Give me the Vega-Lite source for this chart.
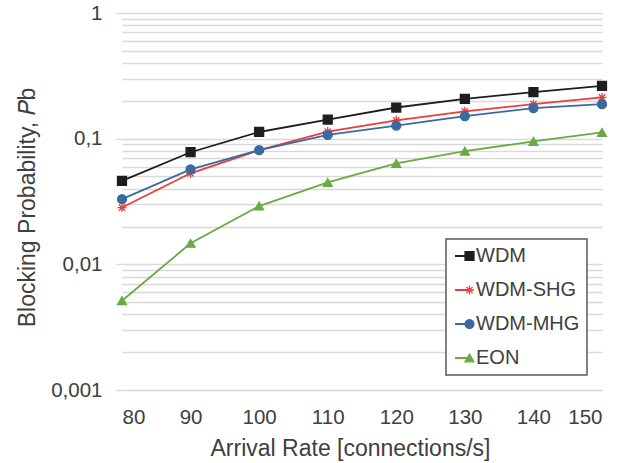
{
  "$schema": "https://vega.github.io/schema/vega-lite/v6.json",
  "autosize": "none",
  "width": 480,
  "height": 377,
  "padding": {"left": 122, "top": 13, "right": 36, "bottom": 73},
  "background": "white",
  "config": {
    "view": {"stroke": null},
    "font": "Liberation Sans",
    "axis": {"labelFont": "Liberation Sans", "titleFont": "Liberation Sans", "labelColor": "#404040", "titleColor": "#404040", "titleFontWeight": "normal"},
    "legend": {"title": null, "orient": "none", "legendY": 226, "padding": 7, "labelFont": "Liberation Sans", "labelFontSize": 20, "labelColor": "#404040", "rowPadding": 14}
  },
  "data": {
    "values": [
      {"series": "WDM", "rate": 80, "pb": 0.0462},
      {"series": "WDM", "rate": 90, "pb": 0.078},
      {"series": "WDM", "rate": 100, "pb": 0.113},
      {"series": "WDM", "rate": 110, "pb": 0.142},
      {"series": "WDM", "rate": 120, "pb": 0.177},
      {"series": "WDM", "rate": 130, "pb": 0.207},
      {"series": "WDM", "rate": 140, "pb": 0.235},
      {"series": "WDM", "rate": 150, "pb": 0.263},
      {"series": "WDM-SHG", "rate": 80, "pb": 0.0283},
      {"series": "WDM-SHG", "rate": 90, "pb": 0.053},
      {"series": "WDM-SHG", "rate": 100, "pb": 0.081},
      {"series": "WDM-SHG", "rate": 110, "pb": 0.114},
      {"series": "WDM-SHG", "rate": 120, "pb": 0.14},
      {"series": "WDM-SHG", "rate": 130, "pb": 0.165},
      {"series": "WDM-SHG", "rate": 140, "pb": 0.188},
      {"series": "WDM-SHG", "rate": 150, "pb": 0.213},
      {"series": "WDM-MHG", "rate": 80, "pb": 0.033},
      {"series": "WDM-MHG", "rate": 90, "pb": 0.057},
      {"series": "WDM-MHG", "rate": 100, "pb": 0.081},
      {"series": "WDM-MHG", "rate": 110, "pb": 0.107},
      {"series": "WDM-MHG", "rate": 120, "pb": 0.127},
      {"series": "WDM-MHG", "rate": 130, "pb": 0.151},
      {"series": "WDM-MHG", "rate": 140, "pb": 0.175},
      {"series": "WDM-MHG", "rate": 150, "pb": 0.188},
      {"series": "EON", "rate": 80, "pb": 0.00513},
      {"series": "EON", "rate": 90, "pb": 0.0147},
      {"series": "EON", "rate": 100, "pb": 0.0291},
      {"series": "EON", "rate": 110, "pb": 0.0449},
      {"series": "EON", "rate": 120, "pb": 0.0636},
      {"series": "EON", "rate": 130, "pb": 0.0796},
      {"series": "EON", "rate": 140, "pb": 0.095},
      {"series": "EON", "rate": 150, "pb": 0.112}
    ]
  },
  "encoding": {
    "x": {
      "field": "rate", "type": "quantitative",
      "scale": {"domain": [80, 150], "nice": false, "zero": false},
      "axis": {"values": [80, 90, 100, 110, 120, 130, 140, 150], "grid": false, "domain": false, "ticks": false, "labelFontSize": 20.5, "labelPadding": 17,
        "title": "Arrival Rate [connections/s]", "titleFontSize": 23, "titleX": 228, "titleY": 65, "titleAlign": "center", "titleBaseline": "alphabetic"}
    },
    "y": {
      "field": "pb", "type": "quantitative",
      "scale": {"type": "log", "domain": [0.001, 1], "nice": false},
      "axis": {
        "values": [0.001, 0.002, 0.003, 0.004, 0.005, 0.006, 0.007, 0.008, 0.009, 0.01, 0.02, 0.03, 0.04, 0.05, 0.06, 0.07, 0.08, 0.09, 0.1, 0.2, 0.3, 0.4, 0.5, 0.6, 0.7, 0.8, 0.9, 1],
        "labelExpr": "abs(log(datum.value)/LN10 - round(log(datum.value)/LN10)) < 1e-6 ? replace(format(datum.value, '~g'), '.', ',') : ''",
        "labelOverlap": false,
        "labelFontSize": 20.5, "labelPadding": 14,
        "domain": false,
        "ticks": true, "tickSize": 6, "tickWidth": 1.3,
        "tickColor": {"condition": {"test": "abs(log(datum.value)/LN10 - round(log(datum.value)/LN10)) < 1e-6", "value": "#d9d9d9"}, "value": "transparent"},
        "grid": true, "gridColor": "#d9d9d9", "gridWidth": 1.3,
        "title": "Blocking Probability, 𝑃b", "titleFontSize": 23, "titleX": -88, "titleY": 194, "titleAngle": 270, "titleAlign": "center", "titleBaseline": "alphabetic"
      }
    }
  },
  "layer": [
    {
      "mark": {"type": "line", "strokeWidth": 1.8},
      "encoding": {
        "color": {"field": "series", "type": "nominal", "sort": ["WDM", "WDM-SHG", "WDM-MHG", "EON"], "scale": {"range": ["#1e1e1e", "#ee3b3b", "#3b6aa0", "#6aaa44"]},
          "legend": {"legendX": 324, "strokeColor": "#595959", "fillColor": "white", "symbolType": "stroke", "symbolSize": 256, "symbolStrokeWidth": 2, "labelOffset": 3, "zindex": 1,
            "encode": {"legend": {"update": {"strokeWidth": {"value": 1.5}}}}}}
      }
    },
    {
      "mark": {"type": "point", "filled": true, "size": 80, "strokeWidth": 1.3, "opacity": 1},
      "encoding": {
        "fill": {"field": "series", "type": "nominal", "scale": {"domain": ["WDM", "WDM-SHG", "WDM-MHG", "EON"], "range": ["#1e1e1e", "#ee3b3b", "#3b6aa0", "#6aaa44"]},
          "legend": {"legendX": 330.5, "symbolSize": 80, "symbolStrokeWidth": 1.3, "labelOffset": 3.5, "labelExpr": "' '", "zindex": 2}},
        "shape": {"field": "series", "type": "nominal", "scale": {"domain": ["WDM", "WDM-SHG", "WDM-MHG", "EON"], "range": ["square", "M-1,0H1M0,-1V1M-0.7,-0.7L0.7,0.7M-0.7,0.7L0.7,-0.7", "circle", "triangle-up"]},
          "legend": {"legendX": 330.5, "symbolSize": 80, "symbolStrokeWidth": 1.3, "labelOffset": 3.5, "labelExpr": "' '", "zindex": 2}},
        "stroke": {"field": "series", "type": "nominal", "scale": {"domain": ["WDM", "WDM-SHG", "WDM-MHG", "EON"], "range": ["#1e1e1e", "#ee3b3b", "#3b6aa0", "#6aaa44"]},
          "legend": {"legendX": 330.5, "symbolSize": 80, "symbolStrokeWidth": 1.3, "labelOffset": 3.5, "labelExpr": "' '", "zindex": 2}}
      }
    }
  ]
}
